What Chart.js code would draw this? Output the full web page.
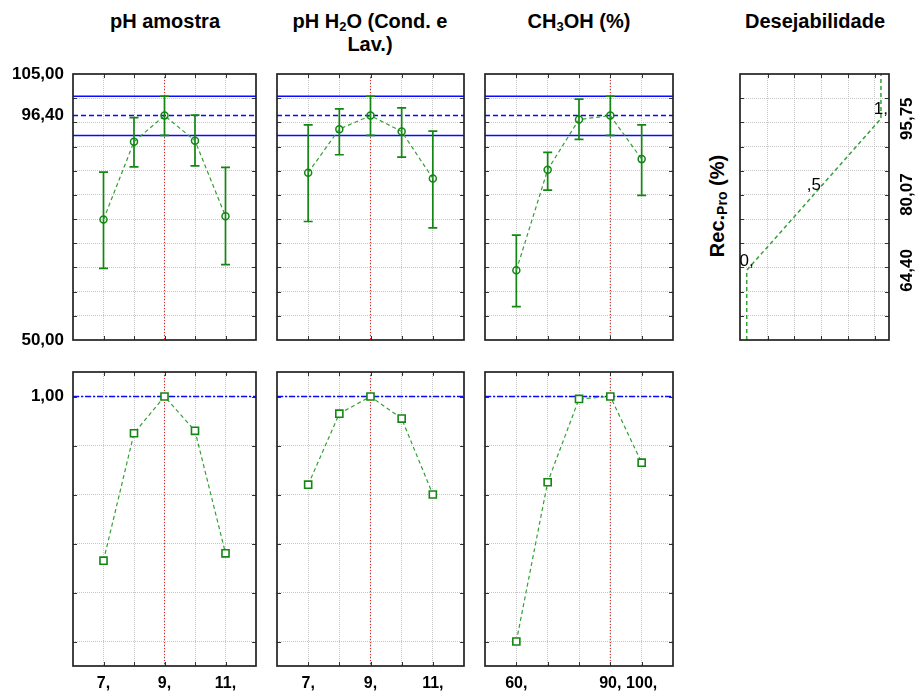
<!DOCTYPE html>
<html>
<head>
<meta charset="utf-8">
<script src="https://cdn.jsdelivr.net/npm/chart.js@4.4.1/dist/chart.umd.min.js"></script>
<style>
  body { margin: 0; background: #fff; }
  #page { position: relative; width: 916px; height: 692px; overflow: hidden; background: #fff;
          font-family: "Liberation Sans", Arial, sans-serif; color: #000; }
  #page canvas { position: absolute; }
  .title { position: absolute; width: 240px; font-weight: bold; font-size: 20px; line-height: 23px;
           text-align: center; white-space: nowrap; }
  .title sub { font-size: 13px; vertical-align: -3px; line-height: 0; }
  .ylab { position: absolute; font-weight: bold; font-size: 20px; white-space: nowrap;
          transform: translate(-50%, -50%) rotate(-90deg); }
  .ylab sub { font-size: 14px; vertical-align: -3px; line-height: 0; }
</style>
</head>
<body>
<div id="page">
  <div class="title" style="left:45px; top:10px;">pH amostra</div>
  <div class="title" style="left:250px; top:10px;">pH H<sub>2</sub>O (Cond. e<br>Lav.)</div>
  <div class="title" style="left:459px; top:10px;">CH<sub>3</sub>OH (%)</div>
  <div class="title" style="left:695px; top:10px;">Desejabilidade</div>
  <div class="ylab" style="left:717px; top:206px;">Rec.<sub>Pro</sub> (%)</div>
</div>
<script>
// factor levels
const phLevels = [7, 8, 9, 10, 11];
const meohLevels = [60, 70, 80, 90, 100];

// predicted Rec.Pro (%) with confidence limits
const predPhAmostra = [74.9, 91.0, 96.4, 91.2, 75.6];
const lowPhAmostra  = [64.8, 85.8, 92.3, 86.0, 65.6];
const highPhAmostra = [84.7, 96.0, 100.4, 96.5, 85.7];

const predPhH2O = [84.6, 93.6, 96.4, 93.1, 83.4];
const lowPhH2O  = [74.5, 88.3, 92.3, 87.8, 73.2];
const highPhH2O = [94.5, 97.8, 100.4, 98.0, 93.2];

const predMeoh = [64.4, 85.2, 95.6, 96.4, 87.4];
const lowMeoh  = [56.9, 81.0, 91.5, 92.3, 79.9];
const highMeoh = [71.7, 88.8, 99.8, 100.4, 94.5];

// desirability at each level
const desPhAmostra = [0.33, 0.85, 1.0, 0.86, 0.36];
const desPhH2O     = [0.64, 0.93, 1.0, 0.91, 0.60];
const desMeoh      = [0.0, 0.65, 0.99, 1.0, 0.73];

// current setting + response at optimum
const currentPh = 9, currentPhH2O = 9, currentMeoh = 90;
const respPred = 96.4, respLow = 92.3, respHigh = 100.4;

// desirability function (d vs response)
const desCurveD    = [0, 0, 0.5, 1, 1];
const desCurveResp = [50, 64.4, 80.07, 95.75, 105];
const desKnotD     = [0, 0.5, 1];
const desKnotResp  = [64.40, 80.07, 95.75];
const desKnotText  = ['0,', ',5', '1,'];

// axes
const respRange = [50, 105];
const respGrid = [55, 60, 65, 70, 75, 80, 85, 90, 95, 100];
const respTickLabels = [105, 96.4, 50];
const desRange = [-0.1, 1.1];
const desGrid = [0, 0.2, 0.4, 0.6, 0.8, 1.0];
const desTickLabels = [1.0];
const phRange = [6, 12];
const phTickLabels = [7, 9, 11];
const meohRange = [50, 110];
const meohTickLabels = [60, 90, 100];
const dAxisRange = [-0.05, 1.06];
const dAxisGrid = [0.155, 0.355, 0.555, 0.755, 0.955];

const GREEN = '#138613';
const GREEN_LINE = '#35a035';
const BLUE = '#0a0aff';
const RED = '#ff1a1a';

const page = document.getElementById('page');

// draws reference lines, error bars, frame, inner ticks and the tick text
const decor = {
  id: 'decor',
  beforeDatasetsDraw(chart, args, o) {
    const { ctx, chartArea: a, scales: { x, y } } = chart;
    ctx.save();
    (o.hLines || []).forEach(l => {
      const py = y.getPixelForValue(l.value);
      ctx.strokeStyle = l.color; ctx.lineWidth = l.width; ctx.setLineDash(l.dash || []);
      ctx.beginPath(); ctx.moveTo(a.left, py); ctx.lineTo(a.right, py); ctx.stroke();
    });
    (o.vLines || []).forEach(l => {
      const px = x.getPixelForValue(l.value);
      ctx.strokeStyle = l.color; ctx.lineWidth = l.width; ctx.setLineDash(l.dash || []);
      ctx.beginPath(); ctx.moveTo(px, a.top); ctx.lineTo(px, a.bottom); ctx.stroke();
    });
    if (o.err) {
      ctx.strokeStyle = GREEN; ctx.lineWidth = 1.7; ctx.setLineDash([]);
      o.err.xs.forEach((xv, i) => {
        const px = x.getPixelForValue(xv);
        const p1 = y.getPixelForValue(o.err.low[i]);
        const p2 = y.getPixelForValue(o.err.high[i]);
        ctx.beginPath();
        ctx.moveTo(px, p1); ctx.lineTo(px, p2);
        ctx.moveTo(px - 4.5, p1); ctx.lineTo(px + 4.5, p1);
        ctx.moveTo(px - 4.5, p2); ctx.lineTo(px + 4.5, p2);
        ctx.stroke();
      });
    }
    ctx.restore();
  },
  afterDraw(chart, args, o) {
    const { ctx, chartArea: a, scales: { x, y } } = chart;
    ctx.save();
    // inner tick marks
    ctx.strokeStyle = '#333'; ctx.lineWidth = 1; ctx.setLineDash([]);
    ctx.beginPath();
    y.ticks.forEach(t => {
      const py = Math.round(y.getPixelForValue(t.value)) + 0.5;
      ctx.moveTo(a.left, py); ctx.lineTo(a.left + 4, py);
      ctx.moveTo(a.right, py); ctx.lineTo(a.right - 4, py);
    });
    x.ticks.forEach(t => {
      const px = Math.round(x.getPixelForValue(t.value)) + 0.5;
      ctx.moveTo(px, a.top); ctx.lineTo(px, a.top + 4);
      ctx.moveTo(px, a.bottom); ctx.lineTo(px, a.bottom - 4);
    });
    ctx.stroke();
    // frame
    ctx.strokeStyle = '#222'; ctx.lineWidth = 1.7;
    ctx.strokeRect(a.left, a.top, a.right - a.left, a.bottom - a.top);

    ctx.fillStyle = '#000';
    if (o.yLabels) {
      ctx.font = 'bold 17px "Liberation Sans", Arial, sans-serif';
      ctx.textAlign = 'right'; ctx.textBaseline = 'middle';
      o.yLabels.forEach(v => ctx.fillText(v.toFixed(2).replace('.', ','), a.left - 9, y.getPixelForValue(v)));
    }
    if (o.xLabels) {
      ctx.font = 'bold 16px "Liberation Sans", Arial, sans-serif';
      ctx.textAlign = 'center'; ctx.textBaseline = 'alphabetic';
      o.xLabels.forEach(v => ctx.fillText(v + ',', x.getPixelForValue(v), a.bottom + 22));
    }
    if (o.knots) {
      ctx.font = '17px "Liberation Sans", Arial, sans-serif';
      ctx.textAlign = 'center'; ctx.textBaseline = 'middle';
      o.knots.d.forEach((d, i) => {
        ctx.fillText(o.knots.text[i], x.getPixelForValue(d), y.getPixelForValue(o.knots.resp[i]) - 9);
      });
    }
    if (o.rightLabels) {
      ctx.font = 'bold 17px "Liberation Sans", Arial, sans-serif';
      ctx.textAlign = 'center'; ctx.textBaseline = 'middle';
      o.rightLabels.forEach(v => {
        ctx.save();
        ctx.translate(a.right + 18, y.getPixelForValue(v));
        ctx.rotate(-Math.PI / 2);
        ctx.fillText(v.toFixed(2).replace('.', ','), 0, 0);
        ctx.restore();
      });
    }
    ctx.restore();
  }
};

function axis(range, grid) {
  return {
    type: 'linear',
    min: range[0],
    max: range[1],
    afterBuildTicks: s => { s.ticks = grid.map(v => ({ value: v })); },
    ticks: { display: false },
    grid: { color: '#c6c6c6', lineWidth: 1, drawTicks: false },
    border: { display: false, dash: [1, 1] }
  };
}

function makePanel(box, xAxis, yAxis, datasets, decorOpts) {
  const pad = { left: 75, right: 40, top: 12, bottom: 30 };
  const c = document.createElement('canvas');
  c.width = box.w + pad.left + pad.right;
  c.height = box.h + pad.top + pad.bottom;
  c.style.left = (box.x - pad.left) + 'px';
  c.style.top = (box.y - pad.top) + 'px';
  page.appendChild(c);
  new Chart(c, {
    type: 'line',
    data: { datasets: datasets },
    options: {
      responsive: false,
      animation: false,
      devicePixelRatio: 1,
      layout: { padding: pad },
      plugins: { legend: { display: false }, tooltip: { enabled: false }, decor: decorOpts },
      scales: { x: xAxis, y: yAxis }
    },
    plugins: [decor]
  });
}

function predSet(xs, ys) {
  return {
    data: xs.map((v, i) => ({ x: v, y: ys[i] })),
    borderColor: GREEN_LINE, borderWidth: 1.2, borderDash: [4, 3],
    pointStyle: 'circle', pointRadius: 3.5, pointBorderWidth: 1.5,
    pointBorderColor: GREEN, pointBackgroundColor: 'rgba(0,0,0,0)', tension: 0
  };
}

function desSet(xs, ys) {
  return {
    data: xs.map((v, i) => ({ x: v, y: ys[i] })),
    borderColor: GREEN_LINE, borderWidth: 1.2, borderDash: [4, 3],
    pointStyle: 'rect', pointRadius: 5, pointBorderWidth: 1.6,
    pointBorderColor: GREEN, pointBackgroundColor: '#fff', tension: 0
  };
}

const respLines = [
  { value: respHigh, color: BLUE, width: 1.5 },
  { value: respPred, color: BLUE, width: 1.5, dash: [5, 3] },
  { value: respLow, color: BLUE, width: 1.5 }
];
const desLine = [{ value: 1.0, color: BLUE, width: 1.4, dash: [6, 2, 2, 2] }];
const redLine = v => [{ value: v, color: RED, width: 1.1, dash: [1, 2] }];

const topY = 74, topH = 266, botY = 372, botH = 294;
const cols = [{ x: 73, w: 183 }, { x: 277, w: 187 }, { x: 485, w: 188 }];

// top row: predicted response
makePanel({ x: cols[0].x, y: topY, w: cols[0].w, h: topH },
  axis(phRange, phLevels), axis(respRange, respGrid),
  [predSet(phLevels, predPhAmostra)],
  { hLines: respLines, vLines: redLine(currentPh), yLabels: respTickLabels,
    err: { xs: phLevels, low: lowPhAmostra, high: highPhAmostra } });

makePanel({ x: cols[1].x, y: topY, w: cols[1].w, h: topH },
  axis(phRange, phLevels), axis(respRange, respGrid),
  [predSet(phLevels, predPhH2O)],
  { hLines: respLines, vLines: redLine(currentPhH2O),
    err: { xs: phLevels, low: lowPhH2O, high: highPhH2O } });

makePanel({ x: cols[2].x, y: topY, w: cols[2].w, h: topH },
  axis(meohRange, meohLevels), axis(respRange, respGrid),
  [predSet(meohLevels, predMeoh)],
  { hLines: respLines, vLines: redLine(currentMeoh),
    err: { xs: meohLevels, low: lowMeoh, high: highMeoh } });

// bottom row: desirability
makePanel({ x: cols[0].x, y: botY, w: cols[0].w, h: botH },
  axis(phRange, phLevels), axis(desRange, desGrid),
  [desSet(phLevels, desPhAmostra)],
  { hLines: desLine, vLines: redLine(currentPh), yLabels: desTickLabels, xLabels: phTickLabels });

makePanel({ x: cols[1].x, y: botY, w: cols[1].w, h: botH },
  axis(phRange, phLevels), axis(desRange, desGrid),
  [desSet(phLevels, desPhH2O)],
  { hLines: desLine, vLines: redLine(currentPhH2O), xLabels: phTickLabels });

makePanel({ x: cols[2].x, y: botY, w: cols[2].w, h: botH },
  axis(meohRange, meohLevels), axis(desRange, desGrid),
  [desSet(meohLevels, desMeoh)],
  { hLines: desLine, vLines: redLine(currentMeoh), xLabels: meohTickLabels });

// desirability function panel
makePanel({ x: 740, y: topY, w: 149, h: topH },
  axis(dAxisRange, dAxisGrid), axis(respRange, respGrid),
  [{
    data: desCurveD.map((d, i) => ({ x: d, y: desCurveResp[i] })),
    borderColor: GREEN_LINE, borderWidth: 1.5, borderDash: [4, 3],
    pointRadius: 0, tension: 0
  }],
  { knots: { d: desKnotD, resp: desKnotResp, text: desKnotText }, rightLabels: desKnotResp });
</script>
</body>
</html>
